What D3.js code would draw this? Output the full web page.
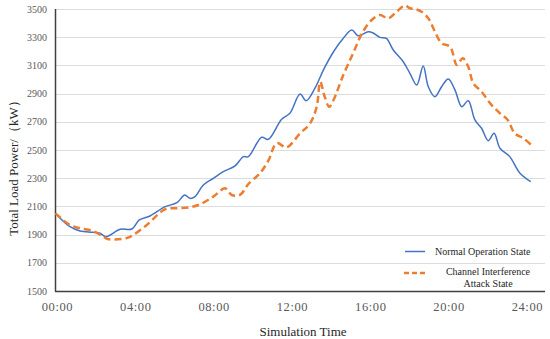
<!DOCTYPE html>
<html><head><meta charset="utf-8">
<script src="https://cdn.jsdelivr.net/npm/d3@7"></script>
<style>body{margin:0;background:#fff}svg{display:block}</style>
</head><body><svg id="c" width="550" height="339"></svg>
<script>
const yTicks = [1500,1700,1900,2100,2300,2500,2700,2900,3100,3300,3500];
const xTicks = [0,4,8,12,16,20,24];
const xTickLabels = ["00:00","04:00","08:00","12:00","16:00","20:00","24:00"];
const normalHours = [0,0.74,1.25,1.9,2.27,2.58,3.3,3.9,4.28,4.83,5.6,6.2,6.6,6.87,7.12,7.55,8.06,8.57,9.17,9.6,9.85,10.53,10.87,11.55,11.97,12.49,12.8,13.25,13.68,14.2,14.7,15.13,15.46,15.97,16.2,16.57,16.9,17.25,17.76,18.1,18.45,18.78,19.04,19.38,19.72,20.06,20.4,20.75,21.08,21.42,21.76,22.1,22.4,22.7,23.2,23.7,24.27];
const normalLoad = [2050,1956,1926,1916,1909,1885,1938,1940,2004,2032,2098,2126,2181,2157,2169,2252,2299,2346,2387,2453,2453,2590,2576,2718,2760,2897,2850,2938,3067,3197,3292,3351,3311,3339,3332,3299,3292,3209,3126,3044,2961,3096,2949,2878,2949,3004,2926,2807,2850,2713,2654,2566,2618,2512,2453,2339,2275];
const attackHours = [0,0.74,1.25,1.9,2.4,2.66,3.6,3.97,4.66,5.59,6.2,6.87,7.38,8.06,8.66,9.0,9.42,9.85,10.44,10.87,11.3,11.8,12.49,13.0,13.34,13.52,13.75,13.98,14.2,14.7,15.2,15.7,16.15,16.57,17.0,17.42,17.85,18.1,18.36,18.7,19.04,19.38,19.72,20.15,20.5,20.8,21.08,21.34,21.76,22.2,22.7,23.1,23.45,23.9,24.3];
const attackLoad = [2050,1968,1945,1926,1890,1869,1874,1897,1968,2079,2087,2094,2115,2169,2228,2181,2181,2259,2335,2424,2548,2519,2618,2689,2807,2984,2878,2807,2855,3032,3186,3339,3422,3457,3434,3481,3525,3505,3500,3481,3434,3339,3257,3233,3103,3150,3091,2973,2914,2831,2760,2713,2618,2583,2535];
const seriesNames = ["Normal Operation State","Channel Interference","Attack State"];

const svg = d3.select("#c");
const x = d3.scaleLinear().domain([0,25]).range([55.5,545]);
const y = d3.scaleLinear().domain([1500,3500]).range([291,9]);
const serif = "'Liberation Serif','Times New Roman',serif";

// grid
svg.append("g").selectAll("line").data(yTicks.slice(1)).join("line")
  .attr("x1",55).attr("x2",545).attr("y1",d=>Math.round(y(d))+0.5).attr("y2",d=>Math.round(y(d))+0.5)
  .attr("stroke","#dcdcdc").attr("stroke-width",1);

// y tick labels
svg.append("g").selectAll("text").data(yTicks).join("text")
  .attr("x",47).attr("y",d=>y(d)).attr("dy","0.35em").attr("text-anchor","end")
  .attr("font-family",serif).attr("font-size",10).attr("fill","#595959").text(d=>d);

// x tick labels
svg.append("g").selectAll("text").data(xTicks).join("text")
  .attr("x",d=>x(d)+2).attr("y",307).attr("dy","0.35em").attr("text-anchor","middle")
  .attr("font-family",serif).attr("font-size",12.5).attr("letter-spacing","0.6px").attr("fill","#595959")
  .text((d,i)=>xTickLabels[i]);

// axes lines
svg.append("line").attr("x1",55.5).attr("x2",55.5).attr("y1",9).attr("y2",291.5).attr("stroke","#404040").attr("stroke-width",1.5);
svg.append("line").attr("x1",55).attr("x2",545).attr("y1",291.5).attr("y2",291.5).attr("stroke","#404040").attr("stroke-width",1.5);

// lines
const lineGen = d3.line().curve(d3.curveCatmullRom.alpha(0.5));
svg.append("path").attr("d",lineGen(normalHours.map((h,i)=>[x(h),y(normalLoad[i])])))
  .attr("fill","none").attr("stroke","#4472C4").attr("stroke-width",1.5);
svg.append("path").attr("d",lineGen(attackHours.map((h,i)=>[x(h),y(attackLoad[i])])))
  .attr("fill","none").attr("stroke","#ED7D31").attr("stroke-width",2.5).attr("stroke-dasharray","7,4");

// axis titles
svg.append("text").attr("transform","translate(13,165) rotate(-90)").attr("text-anchor","middle").attr("dy","0.35em")
  .attr("font-family",serif).attr("font-size",13).attr("fill","#262626").text("Total Load Power/（kW）");
svg.append("text").attr("x",303).attr("y",331).attr("dy","0.35em").attr("text-anchor","middle")
  .attr("font-family",serif).attr("font-size",13).attr("fill","#262626").text("Simulation Time");

// legend
svg.append("line").attr("x1",405).attr("x2",425).attr("y1",251.5).attr("y2",251.5).attr("stroke","#4472C4").attr("stroke-width",1.5);
svg.append("line").attr("x1",404).attr("x2",427).attr("y1",273).attr("y2",273).attr("stroke","#ED7D31").attr("stroke-width",2.5).attr("stroke-dasharray","5,3");
svg.append("text").attr("x",435).attr("y",251.5).attr("dy","0.35em").attr("font-family",serif).attr("font-size",10).attr("fill","#262626").text(seriesNames[0]);
svg.append("text").attr("x",488).attr("y",271).attr("dy","0.35em").attr("text-anchor","middle").attr("font-family",serif).attr("font-size",10).attr("fill","#262626").text(seriesNames[1]);
svg.append("text").attr("x",488).attr("y",283).attr("dy","0.35em").attr("text-anchor","middle").attr("font-family",serif).attr("font-size",10).attr("fill","#262626").text(seriesNames[2]);
</script></body></html>
